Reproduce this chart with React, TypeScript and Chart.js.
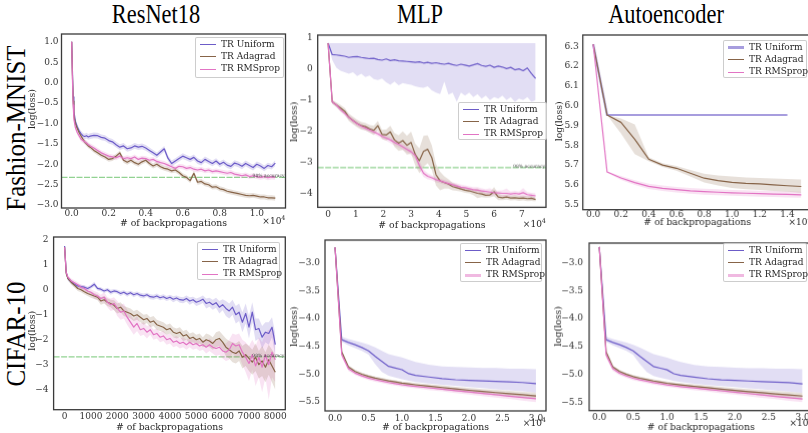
import React, { useEffect, useRef } from "react";
import { Chart, registerables } from "chart.js";

Chart.register(...registerables);

const SERIF = '"DejaVu Serif", serif';
const TITLE_FONT = '"Liberation Serif", "Times New Roman", serif';

const COL_TITLES = ["ResNet18", "MLP", "Autoencoder"];
const ROW_TITLES = ["Fashion-MNIST", "CIFAR-10"];
const NAMES = ["TR Uniform", "TR Adagrad", "TR RMSprop"];
const X_LABEL = "# of backpropagations";
const Y_LABEL = "log(loss)";
const ACC_LABEL = "98% accuracy";

const UNI = [108, 92, 200];
const ADA = [135, 100, 72];
const RMS = [226, 116, 196];

// ---------- Fashion-MNIST / ResNet18 (x in 1e4) ----------
const xA = [0, 0.004, 0.008, 0.012, 0.02, 0.03, 0.04, 0.05, 0.06, 0.07, 0.08, 0.09, 0.1,
  0.12, 0.14, 0.16, 0.18, 0.2, 0.22, 0.24, 0.26, 0.28, 0.3,
  0.32, 0.34, 0.36, 0.38, 0.4, 0.42, 0.44, 0.46, 0.48, 0.5,
  0.52, 0.54, 0.56, 0.58, 0.6, 0.62, 0.64, 0.66, 0.68, 0.7,
  0.72, 0.74, 0.76, 0.78, 0.8, 0.82, 0.84, 0.86, 0.88, 0.9,
  0.92, 0.94, 0.96, 0.98, 1.0, 1.02, 1.04, 1.06, 1.08, 1.1];
const uniA = [1.0, 0.3, -0.35, -0.7, -0.95, -1.08, -1.18, -1.25, -1.3, -1.32, -1.3, -1.33, -1.31,
  -1.29, -1.3, -1.34, -1.36, -1.42, -1.45, -1.52, -1.58, -1.55, -1.62,
  -1.6, -1.55, -1.58, -1.56, -1.6, -1.66, -1.72, -1.78, -1.7, -1.62,
  -1.85, -1.98, -1.92, -1.86, -1.8, -1.84, -1.88, -1.83, -1.92, -1.96,
  -1.88, -1.93, -1.98, -1.92, -2.0, -1.95, -2.02, -2.05, -1.97, -2.0,
  -2.05, -1.98, -2.03, -2.08, -2.0, -2.04, -2.1, -2.03, -2.06, -1.97];
const adaA = [1.0, 0.2, -0.45, -0.8, -1.0, -1.12, -1.22, -1.3, -1.38, -1.45, -1.5, -1.55, -1.58,
  -1.66, -1.72, -1.78, -1.82, -1.88, -1.86, -1.8, -1.72, -1.9, -1.95,
  -1.9, -1.96, -2.0, -1.94, -1.9, -1.98, -2.04, -2.0, -2.06, -2.1,
  -2.12, -2.16, -2.14, -2.2, -2.28, -2.32, -2.4, -2.22, -2.44, -2.42,
  -2.48, -2.5, -2.56, -2.55, -2.6, -2.62, -2.66, -2.68, -2.7, -2.72,
  -2.74, -2.76, -2.77, -2.76, -2.78, -2.8, -2.8, -2.82, -2.82, -2.83];
const rmsA = [1.0, 0.1, -0.55, -0.9, -1.1, -1.22, -1.3, -1.38, -1.42, -1.45, -1.48, -1.52, -1.55,
  -1.6, -1.66, -1.72, -1.76, -1.8, -1.82, -1.84, -1.8, -1.86, -1.84,
  -1.86, -1.82, -1.88, -1.85, -1.86, -1.9, -1.88, -1.93, -1.96, -1.98,
  -2.02, -2.06, -2.1, -2.05, -2.06, -2.1, -2.08, -2.12, -2.14, -2.12,
  -2.16, -2.14, -2.18, -2.16, -2.18, -2.2, -2.22, -2.2, -2.24, -2.26,
  -2.28, -2.26, -2.3, -2.28, -2.3, -2.32, -2.3, -2.33, -2.31, -2.32];
const uniAStd = 0.07;
const adaAStd = 0.06;
const rmsAStd = 0.06;

// ---------- Fashion-MNIST / MLP (x in 1e4) ----------
const xB = [0, 0.15, 0.3, 0.45, 0.6, 0.75, 0.9, 1.05, 1.2, 1.35,
  1.5, 1.65, 1.8, 1.95, 2.1, 2.25, 2.4, 2.55, 2.7, 2.85,
  3.0, 3.15, 3.3, 3.45, 3.6, 3.75, 3.9, 4.05, 4.2, 4.35,
  4.5, 4.65, 4.8, 4.95, 5.1, 5.25, 5.4, 5.55, 5.7, 5.85,
  6.0, 6.15, 6.3, 6.45, 6.6, 6.75, 6.9, 7.05, 7.2, 7.35,
  7.5];
const uniB = [0.84, 0.47, 0.46, 0.44, 0.42, 0.38, 0.4, 0.41, 0.38, 0.36,
  0.34, 0.35, 0.31, 0.29, 0.33, 0.28, 0.3, 0.27, 0.26, 0.25,
  0.24, 0.22, 0.24, 0.2, 0.22, 0.19, 0.21, 0.18, 0.16, 0.19,
  0.15, 0.12, 0.16, 0.13, 0.1, 0.14, 0.18, 0.12, 0.09, 0.13,
  0.06, 0.1, 0.07, 0.02, 0.06, -0.02, 0.01, -0.05, 0.04, -0.14,
  -0.3];
const uniBHi = 0.84;
const uniBLo = [0.84, 0.3, 0.05, -0.05, -0.1, -0.15, -0.1, -0.22, -0.15, -0.25,
  -0.2, -0.32, -0.35, -0.3, -0.42, -0.5, -0.4, -0.52, -0.45, -0.48,
  -0.5, -0.55, -0.58, -0.6, -0.55, -0.68, -0.75, -0.8, -0.4, -0.82,
  -0.75, -1.05, -0.75, -0.85, -0.75, -0.9, -0.8, -0.95, -0.85, -1.0,
  -0.9, -0.95, -0.85, -1.0, -0.9, -1.05, -0.95, -1.0, -0.9, -1.05,
  -1.0];
const adaB = [0.84, -1.05, -1.15, -1.25, -1.35, -1.55, -1.65, -1.75, -1.82, -1.85,
  -1.92, -1.97, -1.82, -2.1, -2.12, -2.02, -2.28, -2.38, -2.3, -2.45,
  -2.36, -2.75, -2.95, -2.65, -2.58, -2.85, -3.4, -3.6, -3.65, -3.7,
  -3.78, -3.82, -3.86, -3.9, -3.92, -3.96, -4.0, -4.02, -4.06, -4.05,
  -3.95, -4.12, -4.14, -4.12, -4.15, -4.14, -4.16, -4.15, -4.17, -4.16,
  -4.2];
const adaBStd = [0, 0.06, 0.08, 0.1, 0.1, 0.12, 0.12, 0.12, 0.12, 0.12,
  0.12, 0.15, 0.15, 0.15, 0.18, 0.2, 0.22, 0.25, 0.3, 0.3,
  0.35, 0.35, 0.4, 0.5, 0.45, 0.4, 0.35, 0.3, 0.2, 0.15,
  0.12, 0.1, 0.08, 0.08, 0.08, 0.1, 0.15, 0.1, 0.08, 0.08,
  0.15, 0.1, 0.08, 0.08, 0.08, 0.08, 0.08, 0.08, 0.08, 0.08,
  0.06];
const rmsB = [0.84, -1.05, -1.15, -1.3, -1.42, -1.55, -1.66, -1.76, -1.84, -1.9,
  -1.96, -2.02, -2.08, -2.16, -2.22, -2.28, -2.36, -2.42, -2.5, -2.58,
  -2.66, -2.78, -3.1, -3.35, -3.45, -3.5, -3.56, -3.6, -3.64, -3.68,
  -3.72, -3.76, -3.8, -3.82, -3.85, -3.88, -3.9, -3.92, -3.94, -3.96,
  -3.98, -3.99, -4.0, -4.0, -4.02, -4.0, -4.02, -3.98, -4.04, -4.06,
  -4.08];
const rmsBStd = [0, 0.05, 0.06, 0.08, 0.08, 0.08, 0.08, 0.08, 0.08, 0.08,
  0.08, 0.08, 0.08, 0.08, 0.08, 0.1, 0.1, 0.1, 0.1, 0.1,
  0.1, 0.12, 0.15, 0.12, 0.1, 0.08, 0.08, 0.08, 0.08, 0.08,
  0.08, 0.08, 0.08, 0.08, 0.08, 0.08, 0.1, 0.08, 0.08, 0.12,
  0.08, 0.08, 0.1, 0.15, 0.08, 0.08, 0.08, 0.15, 0.08, 0.08,
  0.08];

// ---------- Fashion-MNIST / Autoencoder (x in 1e4) ----------
const xC = [0, 0.1, 0.2, 0.3, 0.4, 0.5, 0.6, 0.7, 0.8, 0.9, 1.0, 1.1, 1.2, 1.3, 1.4, 1.5];
const uniC = [6.31, 5.953, 5.953, 5.953, 5.953, 5.953, 5.953, 5.953, 5.953, 5.953, 5.953, 5.953, 5.953, 5.953, 5.953, null];
const adaC = [6.31, 5.953, 5.916, 5.83, 5.73, 5.7, 5.684, 5.659, 5.634, 5.622, 5.613, 5.608, 5.605, 5.6, 5.596, 5.592];
const adaCHi = [6.31, 5.953, 5.935, 5.905, 5.74, 5.71, 5.695, 5.675, 5.656, 5.648, 5.642, 5.638, 5.635, 5.632, 5.63, 5.628];
const adaCLo = [6.31, 5.953, 5.86, 5.755, 5.72, 5.69, 5.672, 5.642, 5.612, 5.597, 5.585, 5.578, 5.574, 5.57, 5.565, 5.56];
const rmsC = [6.31, 5.665, 5.635, 5.612, 5.593, 5.583, 5.576, 5.57, 5.566, 5.563, 5.56, 5.558, 5.556, 5.554, 5.552, 5.55];
const rmsCStd = [0, 0.004, 0.01, 0.012, 0.013, 0.014, 0.014, 0.015, 0.015, 0.015, 0.015, 0.015, 0.015, 0.015, 0.015, 0.015];

// ---------- CIFAR-10 / ResNet18 ----------
const xD = [0, 60, 125, 250, 375, 500, 625, 750, 875, 1000, 1125,
  1250, 1375, 1500, 1625, 1750, 1875, 2000, 2125, 2250, 2375, 2500,
  2625, 2750, 2875, 3000, 3125, 3250, 3375, 3500, 3625, 3750, 3875,
  4000, 4125, 4250, 4375, 4500, 4625, 4750, 4875, 5000, 5125, 5250,
  5375, 5500, 5625, 5750, 5875, 6000, 6125, 6250, 6375, 6500, 6625,
  6750, 6875, 7000, 7125, 7250, 7375, 7500, 7625, 7750, 7875, 8000];
const uniD = [1.75, 0.7, 0.45, 0.32, 0.22, 0.15, 0.12, 0.1, 0.05, 0.12, 0.22,
  0.05, 0.02, -0.05, 0.0, -0.1, -0.05, -0.08, -0.15, -0.1, -0.18, -0.12,
  -0.2, -0.15, -0.22, -0.25, -0.2, -0.28, -0.3, -0.25, -0.32, -0.28, -0.35,
  -0.3, -0.38, -0.33, -0.4, -0.42, -0.35, -0.45, -0.4, -0.5, -0.45, -0.38,
  -0.55, -0.5, -0.6, -0.52, -0.7, -0.6, -0.75, -0.85, -0.7, -1.0, -0.9,
  -1.3, -0.95, -1.5, -0.9, -1.6, -1.55, -1.9, -1.7, -1.75, -1.5, -2.2];
const uniDStd = [0, 0.05, 0.08, 0.08, 0.08, 0.08, 0.08, 0.08, 0.08, 0.08, 0.1,
  0.08, 0.08, 0.08, 0.08, 0.1, 0.08, 0.08, 0.1, 0.08, 0.1, 0.08,
  0.1, 0.08, 0.1, 0.1, 0.08, 0.1, 0.1, 0.1, 0.1, 0.1, 0.1,
  0.1, 0.12, 0.1, 0.12, 0.12, 0.12, 0.15, 0.12, 0.15, 0.15, 0.15,
  0.2, 0.18, 0.2, 0.2, 0.25, 0.22, 0.3, 0.3, 0.3, 0.35, 0.35,
  0.4, 0.4, 0.45, 0.4, 0.45, 0.4, 0.45, 0.4, 0.45, 0.4, 0.45];
const adaD = [1.7, 0.65, 0.45, 0.3, 0.18, 0.05, 0.0, -0.08, -0.15, -0.2, -0.25,
  -0.3, -0.45, -0.4, -0.5, -0.55, -0.62, -0.75, -0.7, -0.85, -0.9, -0.95,
  -1.05, -1.0, -1.1, -1.2, -1.15, -1.3, -1.25, -1.4, -1.45, -1.5, -1.6,
  -1.55, -1.7, -1.75, -1.7, -1.85, -1.8, -1.95, -1.9, -2.0, -1.95, -2.1,
  -2.0, -2.05, -2.15, -2.0, -1.95, -2.1, -2.3, -2.4, -2.5, -2.55, -2.45,
  -2.7, -2.6, -2.75, -2.9, -2.7, -3.0, -2.85, -3.1, -2.8, -3.05, -3.3];
const adaDStd = [0, 0.05, 0.08, 0.1, 0.1, 0.1, 0.1, 0.1, 0.1, 0.12, 0.12,
  0.12, 0.15, 0.15, 0.15, 0.15, 0.2, 0.2, 0.2, 0.2, 0.2, 0.2,
  0.2, 0.2, 0.2, 0.2, 0.18, 0.2, 0.2, 0.2, 0.2, 0.2, 0.2,
  0.2, 0.2, 0.2, 0.2, 0.2, 0.2, 0.2, 0.2, 0.2, 0.2, 0.2,
  0.25, 0.25, 0.25, 0.3, 0.3, 0.3, 0.35, 0.35, 0.4, 0.4, 0.4,
  0.45, 0.45, 0.5, 0.5, 0.55, 0.55, 0.6, 0.6, 0.6, 0.65, 0.7];
const rmsD = [1.7, 0.7, 0.5, 0.35, 0.28, 0.2, 0.1, 0.05, -0.05, -0.1, -0.2,
  -0.25, -0.35, -0.3, -0.5, -0.6, -0.55, -0.75, -0.9, -0.85, -1.1, -1.3,
  -1.5, -1.35, -1.6, -1.55, -1.7, -1.6, -1.8, -1.75, -1.9, -1.85, -2.0,
  -1.95, -2.1, -2.05, -2.15, -2.1, -2.2, -2.1, -2.2, -2.15, -2.25, -2.2,
  -2.3, -2.2, -2.3, -2.35, -2.3, -2.45, -2.5, -2.4, -2.15, -2.25, -2.2,
  -2.5, -2.7, -2.95, -2.6, -3.05, -2.7, -3.1, -2.6, -3.0, -2.5, -2.8];
const rmsDStd = [0, 0.05, 0.08, 0.1, 0.1, 0.1, 0.1, 0.12, 0.12, 0.12, 0.15,
  0.15, 0.15, 0.2, 0.2, 0.25, 0.25, 0.3, 0.3, 0.3, 0.3, 0.3,
  0.3, 0.3, 0.25, 0.25, 0.25, 0.2, 0.2, 0.2, 0.2, 0.2, 0.2,
  0.2, 0.2, 0.2, 0.2, 0.2, 0.2, 0.2, 0.2, 0.2, 0.2, 0.2,
  0.25, 0.25, 0.25, 0.3, 0.3, 0.3, 0.35, 0.4, 0.4, 0.45, 0.45,
  0.5, 0.6, 0.7, 0.6, 0.8, 0.8, 1.0, 0.9, 1.4, 1.0, 0.9];

// ---------- CIFAR-10 / MLP and Autoencoder (x in 1e4) ----------
const xE = [0, 0.1, 0.2, 0.3, 0.4, 0.5, 0.6, 0.7, 0.8, 0.9, 1.0, 1.1, 1.2, 1.4, 1.6, 1.8, 2.0, 2.2, 2.4, 2.6, 2.8, 3.0];
const uniE = [-2.72, -4.38, -4.43, -4.47, -4.52, -4.58, -4.68, -4.77, -4.86, -4.89, -4.92, -4.99, -5.02, -5.05, -5.08, -5.1, -5.11, -5.12, -5.13, -5.14, -5.15, -5.17];
const uniEHi = [-2.72, -4.33, -4.37, -4.4, -4.43, -4.47, -4.52, -4.58, -4.64, -4.67, -4.7, -4.74, -4.78, -4.83, -4.86, -4.87, -4.88, -4.89, -4.89, -4.9, -4.9, -4.91];
const uniELo = [-2.72, -4.42, -4.48, -4.53, -4.58, -4.65, -4.82, -4.96, -5.03, -5.06, -5.09, -5.12, -5.14, -5.17, -5.19, -5.21, -5.23, -5.25, -5.27, -5.29, -5.31, -5.33];
const adaE = [-2.72, -4.6, -4.87, -4.95, -5.0, -5.04, -5.07, -5.095, -5.12, -5.14, -5.16, -5.175, -5.19, -5.215, -5.24, -5.265, -5.29, -5.31, -5.33, -5.35, -5.37, -5.39];
const adaEStd = [0, 0.03, 0.03, 0.03, 0.03, 0.03, 0.03, 0.03, 0.03, 0.03, 0.03, 0.03, 0.03, 0.035, 0.04, 0.04, 0.045, 0.045, 0.05, 0.05, 0.055, 0.06];
const rmsE = [-2.72, -4.65, -4.9, -4.98, -5.03, -5.07, -5.1, -5.125, -5.15, -5.17, -5.19, -5.205, -5.22, -5.245, -5.27, -5.295, -5.32, -5.345, -5.37, -5.395, -5.42, -5.44];
const rmsEStd = [0, 0.05, 0.04, 0.035, 0.035, 0.035, 0.035, 0.035, 0.035, 0.035, 0.035, 0.035, 0.035, 0.04, 0.04, 0.045, 0.045, 0.05, 0.05, 0.05, 0.055, 0.06];

// ---------- tick labels ----------
const xTicksA = [0, 0.2, 0.4, 0.6, 0.8, 1.0];
const yTicksA = [1, 0.5, 0, -0.5, -1, -1.5, -2, -2.5, -3];
const xTicksB = [0, 1, 2, 3, 4, 5, 6, 7];
const yTicksB = [1, 0, -1, -2, -3, -4];
const xTicksC = [0, 0.2, 0.4, 0.6, 0.8, 1.0, 1.2, 1.4];
const yTicksC = [5.5, 5.6, 5.7, 5.8, 5.9, 6.0, 6.1, 6.2, 6.3];
const xTicksD = [0, 1000, 2000, 3000, 4000, 5000, 6000, 7000, 8000];
const yTicksD = [2, 1, 0, -1, -2, -3, -4];
const xTicksE = [0, 0.5, 1.0, 1.5, 2.0, 2.5, 3.0];
const yTicksE = [-3, -3.5, -4, -4.5, -5, -5.5];

const ACC_A = -2.32;
const ACC_B = -3.17;
const ACC_D = -2.69;

const rgba = (c: number[], a: number) => `rgba(${c[0]},${c[1]},${c[2]},${a})`;
const at = (v: any, i: number) => (Array.isArray(v) ? v[i] : v);
const fmt = (v: number, d: number) => (Math.abs(v) < 1e-9 ? 0 : v).toFixed(d).replace("-", "\u2212");
const pts = (x: number[], y: any[]) =>
  x.map((xv, i) => ({ x: xv, y: y[i] })).filter((p) => p.y !== null && p.y !== undefined);

const S = (name: string, rgb: number[], y: any[], extra: any = {}) => ({ name, rgb, y, ...extra });

const PANELS: any[] = [
  {
    key: "A", x: xA, xMin: -0.055, xMax: 1.155, yMin: -3.07, yMax: 1.19,
    xTicks: xTicksA, xDec: 1, yTicks: yTicksA, yDec: 1,
    frame: { l: 61, t: 34, r: 285, b: 208 }, yTitle: [32.5, 109], xTitleY: 223.3,
    yPad: 3, xPad: 0, offsetY: 222, acc: ACC_A,
    legend: { l: 195, t: 37, w: 89, h: 41 },
    series: [
      S(NAMES[0], UNI, uniA, { std: uniAStd }),
      S(NAMES[1], ADA, adaA, { std: adaAStd }),
      S(NAMES[2], RMS, rmsA, { std: rmsAStd }),
    ],
  },
  {
    key: "B", x: xB, xMin: -0.375, xMax: 7.875, yMin: -4.45, yMax: 1.1,
    xTicks: xTicksB, xDec: 0, yTicks: yTicksB, yDec: 0,
    frame: { l: 317.7, t: 35.3, r: 546, b: 206.7 }, yTitle: [295, 121.7], xTitleY: 225,
    yPad: 5, xPad: 2, offsetY: 224, acc: ACC_B,
    legend: { l: 458, t: 102, w: 89, h: 38 },
    series: [
      S(NAMES[0], UNI, uniB, { lo: uniBLo, hi: uniBHi }),
      S(NAMES[1], ADA, adaB, { std: adaBStd }),
      S(NAMES[2], RMS, rmsB, { std: rmsBStd }),
    ],
  },
  {
    key: "C", x: xC, xMin: -0.075, xMax: 1.575, yMin: 5.475, yMax: 6.357,
    xTicks: xTicksC, xDec: 1, yTicks: yTicksC, yDec: 1,
    frame: { l: 582.7, t: 35.3, r: 810.7, b: 210 }, yTitle: [560, 121.7], xTitleY: 223.3,
    yPad: 4, xPad: 0, offsetY: 223, acc: null,
    legend: { l: 723, t: 40, w: 84, h: 38 },
    series: [
      S(NAMES[0], UNI, uniC, { width: 2.2, alpha: 0.6 }),
      S(NAMES[1], ADA, adaC, { lo: adaCLo, hi: adaCHi }),
      S(NAMES[2], RMS, rmsC, { std: rmsCStd }),
    ],
  },
  {
    key: "D", x: xD, xMin: -418, xMax: 8379, yMin: -4.8, yMax: 2.108,
    xTicks: xTicksD, xDec: 0, yTicks: yTicksD, yDec: 0,
    frame: { l: 53.3, t: 237.3, r: 285, b: 410 }, yTitle: [32.7, 331], xTitleY: 428.3,
    yPad: 5, xPad: 2, offsetY: null, acc: ACC_D,
    legend: { l: 197, t: 242, w: 83, h: 38 },
    series: [
      S(NAMES[0], UNI, uniD, { std: uniDStd }),
      S(NAMES[1], ADA, adaD, { std: adaDStd }),
      S(NAMES[2], RMS, rmsD, { std: rmsDStd }),
    ],
  },
  {
    key: "E", x: xE, xMin: -0.15, xMax: 3.15, yMin: -5.66, yMax: -2.59,
    xTicks: xTicksE, xDec: 1, yTicks: yTicksE, yDec: 1,
    frame: { l: 325, t: 240, r: 546, b: 410 }, yTitle: [295, 326], xTitleY: 426.7,
    yPad: 5, xPad: 2, offsetY: 422.7, acc: null,
    legend: { l: 460, t: 243, w: 82, h: 39 },
    series: [
      S(NAMES[0], UNI, uniE, { lo: uniELo, hi: uniEHi }),
      S(NAMES[1], ADA, adaE, { std: adaEStd }),
      S(NAMES[2], RMS, rmsE, { std: rmsEStd, legendWidth: 3, legendAlpha: 0.5 }),
    ],
  },
  {
    key: "F", x: xE, xMin: -0.15, xMax: 3.15, yMin: -5.65, yMax: -2.65,
    xTicks: xTicksE, xDec: 1, yTicks: yTicksE, yDec: 1,
    frame: { l: 589.3, t: 243.3, r: 812, b: 410 }, yTitle: [559.3, 326], xTitleY: 426.7,
    yPad: 6, xPad: 2, offsetY: 422.7, acc: null,
    legend: { l: 723, t: 243, w: 84, h: 39 },
    series: [
      S(NAMES[0], UNI, uniE, { lo: uniELo, hi: uniEHi }),
      S(NAMES[1], ADA, adaE, { std: adaEStd }),
      S(NAMES[2], RMS, rmsE, { std: rmsEStd, legendWidth: 3, legendAlpha: 0.5 }),
    ],
  },
];

function Panel({ p }: { p: any }) {
  const ref = useRef<HTMLCanvasElement>(null);
  const cl = p.yTitle[0] - 8;
  const ct = p.frame.t - 12;
  const cr = p.frame.r + 14;
  const cb = p.xTitleY + 8;

  useEffect(() => {
    const lineSets: any[] = [];
    const bandSets: any[] = [];
    p.series.forEach((s: any) => {
      lineSets.unshift({
        data: pts(p.x, s.y),
        borderColor: rgba(s.rgb, s.alpha ?? 1),
        borderWidth: s.width ?? 1.2,
        pointRadius: 0,
        fill: false,
        tension: 0,
        borderJoinStyle: "round",
      });
      let lo: any[] | null = null;
      let hi: any[] | null = null;
      if (s.lo !== undefined) {
        lo = p.x.map((_: number, i: number) => at(s.lo, i));
        hi = p.x.map((_: number, i: number) => at(s.hi, i));
      } else if (s.std !== undefined) {
        hi = s.y.map((v: any, i: number) => (v == null ? null : v + at(s.std, i)));
        lo = s.y.map((v: any, i: number) => (v == null ? null : v - at(s.std, i)));
      }
      if (lo && hi) {
        bandSets.push({ data: pts(p.x, hi), borderWidth: 0, borderColor: "transparent", pointRadius: 0, fill: false, tension: 0 });
        bandSets.push({
          data: pts(p.x, lo), borderWidth: 0, borderColor: "transparent", pointRadius: 0, tension: 0,
          fill: "-1", backgroundColor: rgba(s.rgb, 0.2),
        });
      }
    });

    const deco = {
      id: "deco" + p.key,
      beforeDatasetsDraw(chart: any) {
        if (p.acc == null) return;
        const { ctx, chartArea: a, scales } = chart;
        const y = scales.y.getPixelForValue(p.acc);
        ctx.save();
        ctx.strokeStyle = "rgba(110,195,110,0.75)";
        ctx.lineWidth = 1.2;
        ctx.setLineDash([6, 1.5]);
        ctx.beginPath();
        ctx.moveTo(a.left, y);
        ctx.lineTo(a.right, y);
        ctx.stroke();
        ctx.restore();
      },
      afterDraw(chart: any) {
        const { ctx, chartArea: a, scales } = chart;
        ctx.save();
        if (p.acc != null) {
          const y = scales.y.getPixelForValue(p.acc);
          ctx.fillStyle = "#444";
          ctx.font = `4.5px ${SERIF}`;
          ctx.textAlign = "right";
          ctx.textBaseline = "middle";
          ctx.fillText(ACC_LABEL, a.right - 1, y - 1.5);
        }
        ctx.strokeStyle = "#3a3a3a";
        ctx.lineWidth = 1.3;
        ctx.strokeRect(a.left, a.top, a.right - a.left, a.bottom - a.top);

        ctx.fillStyle = "#262626";
        ctx.font = `9.3px ${SERIF}`;
        ctx.textAlign = "center";
        ctx.textBaseline = "middle";
        ctx.fillText(X_LABEL, (a.left + a.right) / 2, p.xTitleY - ct);
        ctx.save();
        ctx.translate(p.yTitle[0] - cl, p.yTitle[1] - ct);
        ctx.rotate(-Math.PI / 2);
        ctx.fillText(Y_LABEL, 0, 0);
        ctx.restore();

        if (p.offsetY != null) {
          const y = p.offsetY - ct;
          ctx.textAlign = "right";
          ctx.font = `6.5px ${SERIF}`;
          const w4 = ctx.measureText("4").width;
          ctx.fillText("4", a.right, y - 3.5);
          ctx.font = `9px ${SERIF}`;
          ctx.fillText("\u00d710", a.right - w4, y);
        }
        ctx.restore();
      },
    };

    const tickFont = { family: SERIF, size: 9 };
    const chart = new Chart(ref.current as HTMLCanvasElement, {
      type: "line",
      data: { datasets: [...lineSets, ...bandSets] },
      options: {
        animation: false,
        responsive: true,
        maintainAspectRatio: false,
        events: [],
        layout: { padding: { left: 0, top: p.frame.t - ct, right: cr - p.frame.r, bottom: 0 } },
        plugins: { legend: { display: false }, tooltip: { enabled: false }, title: { display: false } },
        scales: {
          x: {
            type: "linear",
            min: p.xMin,
            max: p.xMax,
            grid: { display: false, drawTicks: false },
            border: { display: false },
            ticks: {
              autoSkip: false,
              maxRotation: 0,
              padding: p.xPad,
              font: tickFont,
              color: "#333",
              callback: (v: any) => fmt(Number(v), p.xDec),
            },
            afterBuildTicks: (s: any) => {
              s.ticks = p.xTicks.map((v: number) => ({ value: v }));
            },
            afterFit: (s: any) => {
              s.height = cb - p.frame.b;
            },
          },
          y: {
            type: "linear",
            min: p.yMin,
            max: p.yMax,
            grid: { display: false, drawTicks: false },
            border: { display: false },
            ticks: {
              autoSkip: false,
              padding: p.yPad,
              font: tickFont,
              color: "#333",
              callback: (v: any) => fmt(Number(v), p.yDec),
            },
            afterBuildTicks: (s: any) => {
              s.ticks = p.yTicks.map((v: number) => ({ value: v }));
            },
            afterFit: (s: any) => {
              s.width = p.frame.l - cl;
            },
          },
        },
      } as any,
      plugins: [deco],
    });
    return () => chart.destroy();
  }, []);

  return (
    <div style={{ position: "absolute", left: cl, top: ct, width: cr - cl, height: cb - ct }}>
      <canvas ref={ref} />
    </div>
  );
}

function Legend({ p }: { p: any }) {
  const L = p.legend;
  return (
    <div
      style={{
        position: "absolute", left: L.l, top: L.t, width: L.w, height: L.h,
        boxSizing: "border-box", background: "rgba(255,255,255,0.8)",
        border: "1px solid rgba(200,200,200,0.9)", borderRadius: 2,
      }}
    >
      {p.series.map((s: any, i: number) => {
        const lw = s.legendWidth ?? s.width ?? 1.2;
        const la = s.legendAlpha ?? s.alpha ?? 1;
        const cy = 6.5 + i * 12.3;
        return (
          <React.Fragment key={i}>
            <div style={{ position: "absolute", left: 4, top: cy - lw / 2, width: 16, height: lw, background: rgba(s.rgb, la) }} />
            <div
              style={{
                position: "absolute", left: 25, top: cy - 6, height: 12, lineHeight: "12px",
                font: `9px ${SERIF}`, color: "#262626", whiteSpace: "nowrap",
              }}
            >
              {s.name}
            </div>
          </React.Fragment>
        );
      })}
    </div>
  );
}

const COL_X = [156, 420, 666];
const ROW_Y = [128, 334];

export default function App() {
  return (
    <div style={{ position: "fixed", left: 0, top: 0, width: 808, height: 433, overflow: "hidden", background: "#fff" }}>
      {COL_TITLES.map((t, i) => (
        <div
          key={t}
          style={{
            position: "absolute", left: COL_X[i], top: 0, transform: "translateX(-50%) scaleX(0.8)",
            font: `28px ${TITLE_FONT}`, lineHeight: "28px", whiteSpace: "nowrap", color: "#000",
          }}
        >
          {t}
        </div>
      ))}
      {ROW_TITLES.map((t, i) => (
        <div
          key={t}
          style={{
            position: "absolute", left: 16, top: ROW_Y[i], transform: "translate(-50%,-50%) rotate(-90deg) scaleY(1.1)",
            font: `25px ${TITLE_FONT}`, lineHeight: "25px", whiteSpace: "nowrap", color: "#000",
          }}
        >
          {t}
        </div>
      ))}
      {PANELS.map((p) => (
        <Panel key={p.key} p={p} />
      ))}
      {PANELS.map((p) => (
        <Legend key={"L" + p.key} p={p} />
      ))}
    </div>
  );
}
